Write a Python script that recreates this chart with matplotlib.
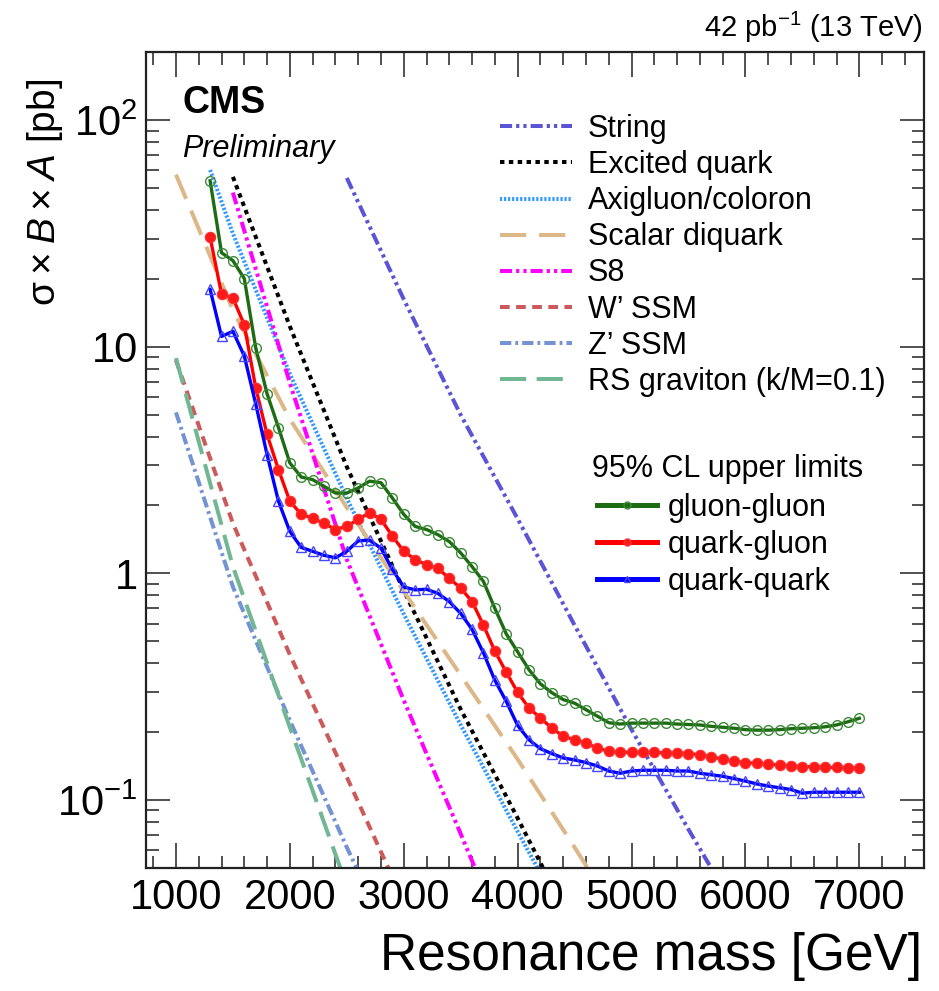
import numpy as np
import matplotlib
matplotlib.use('Agg')
import matplotlib.pyplot as plt
from matplotlib.lines import Line2D
from matplotlib.ticker import FixedLocator, FixedFormatter, MultipleLocator, NullFormatter

plt.rcParams['font.family'] = ['Liberation Sans', 'DejaVu Sans']
plt.rcParams['mathtext.fontset'] = 'custom'
plt.rcParams['mathtext.rm'] = 'Liberation Sans'
plt.rcParams['mathtext.it'] = 'Liberation Sans:italic'
plt.rcParams['mathtext.bf'] = 'Liberation Sans:bold'

# ---------------- data ----------------
limit_mass = list(range(1300, 7100, 100))
gluon_gluon = [54, 26, 24, 20, 9.9, 6.2, 4.4, 3.07, 2.66, 2.59,
               2.42, 2.26, 2.26, 2.38, 2.55, 2.51, 2.15, 1.82, 1.61, 1.56,
               1.48, 1.38, 1.23, 1.07, 0.92, 0.70, 0.54, 0.45, 0.375, 0.325,
               0.297, 0.277, 0.267, 0.250, 0.234, 0.219, 0.216, 0.218, 0.218, 0.218,
               0.218, 0.216, 0.215, 0.214, 0.211, 0.209, 0.207, 0.204, 0.203, 0.203,
               0.204, 0.206, 0.207, 0.208, 0.210, 0.214, 0.221, 0.229]
quark_gluon = [30.4, 17.1, 16.4, 12.5, 6.6, 4.1, 2.87, 2.08, 1.82, 1.75,
               1.66, 1.56, 1.61, 1.73, 1.85, 1.73, 1.46, 1.25, 1.15, 1.09,
               1.05, 0.95, 0.86, 0.75, 0.59, 0.453, 0.366, 0.298, 0.254, 0.230,
               0.207, 0.191, 0.184, 0.178, 0.169, 0.164, 0.162, 0.162, 0.162, 0.162,
               0.161, 0.161, 0.160, 0.158, 0.155, 0.151, 0.148, 0.146, 0.145, 0.144,
               0.142, 0.141, 0.140, 0.140, 0.139, 0.139, 0.138, 0.138]
quark_quark = [17.9, 11.1, 11.7, 9.1, 5.6, 3.34, 2.08, 1.53, 1.30, 1.25,
               1.20, 1.17, 1.25, 1.39, 1.40, 1.29, 1.04, 0.87, 0.845, 0.85,
               0.815, 0.75, 0.665, 0.565, 0.445, 0.337, 0.272, 0.213, 0.184, 0.168,
               0.160, 0.153, 0.150, 0.146, 0.141, 0.134, 0.131, 0.134, 0.135, 0.135,
               0.135, 0.134, 0.134, 0.131, 0.129, 0.127, 0.124, 0.121, 0.1175, 0.115,
               0.113, 0.111, 0.107, 0.108, 0.108, 0.108, 0.108, 0.108]

string_mass = [2500, 3000, 3500, 4000, 4500, 5000, 5500, 5800]
string_xs = [55.6, 16.2, 5.0, 1.74, 0.59, 0.204, 0.074, 0.041]
excited_mass = [1500, 2000, 2500, 3000, 3500, 4000, 4300]
excited_xs = [56.2, 12.3, 2.95, 0.84, 0.251, 0.083, 0.042]
axigluon_mass = [1300, 1500, 2000, 2500, 3000, 3500, 4000, 4250]
axigluon_xs = [60.3, 31.6, 7.59, 2.14, 0.661, 0.214, 0.0724, 0.0427]
diquark_mass = [1000, 1500, 2000, 2500, 3000, 3500, 4000, 4500, 4700]
diquark_xs = [57.5, 14.5, 4.79, 1.95, 0.832, 0.355, 0.151, 0.0617, 0.0427]
s8_mass = [1500, 2000, 2500, 3000, 3500, 3700]
s8_xs = [47.9, 6.92, 1.15, 0.275, 0.0708, 0.0407]
wprime_mass = [1000, 1500, 2000, 2500, 2900]
wprime_xs = [8.71, 1.66, 0.437, 0.126, 0.0457]
zprime_mass = [1000, 1500, 2000, 2500, 2650]
zprime_xs = [5.13, 0.871, 0.224, 0.0617, 0.0427]
rsg_mass = [1000, 1500, 2000, 2500]
rsg_xs = [8.91, 1.07, 0.209, 0.0417]

theory_labels = ['String', 'Excited quark', 'Axigluon/coloron', 'Scalar diquark',
                 'S8', 'W\u2019 SSM', 'Z\u2019 SSM', 'RS graviton (k/M=0.1)']
limit_labels = ['gluon-gluon', 'quark-gluon', 'quark-quark']

# ---------------- figure ----------------
W, H = 939, 991
fig = plt.figure(figsize=(W / 100, H / 100), dpi=100)
L, R, T, B = 146, 924, 52, 868
ax = fig.add_axes([L / W, 1 - B / H, (R - L) / W, (B - T) / H])
ax.set_xlim(737, 7568)
ax.set_yscale('log')
ax.set_ylim(0.05, 200)

lw_th = 2.9
th_specs = [
    (string_mass, string_xs, '#5b55d6', (0, (3.0, 1.0, 0.8, 1.0, 0.8, 1.0))),
    (excited_mass, excited_xs, 'black', (0, (1.1, 1.1))),
    (axigluon_mass, axigluon_xs, '#3399ff', (0, (0.55, 0.45))),
    (diquark_mass, diquark_xs, '#dcb788', (0, (6.5, 3.2))),
    (s8_mass, s8_xs, '#ff00ff', (0, (3.0, 1.0, 0.8, 1.0, 0.8, 1.0))),
    (wprime_mass, wprime_xs, '#cc5a5a', (0, (2.4, 1.6))),
    (zprime_mass, zprime_xs, '#7393d2', (0, (2.8, 1.0, 0.7, 1.0))),
    (rsg_mass, rsg_xs, '#72b794', (0, (6.5, 2.6))),
]
th_lines = []
for (m, xs, c, ls), lab in zip(th_specs, theory_labels):
    ln, = ax.plot(m, xs, color=c, lw=lw_th, linestyle=ls, label=lab)
    th_lines.append(ln)

ax.plot(limit_mass, gluon_gluon, color='#1d6b12', lw=2.4, marker='o', ms=7,
        mfc='none', mec='#3c8a38', mew=1.0, zorder=5)
ax.plot(limit_mass, quark_gluon, color='#ff0000', lw=2.4, marker='o', ms=7.5,
        mfc='#ff1a1a', mec='#ff3030', mew=0.8, zorder=5)
ax.plot(limit_mass, quark_quark, color='#0000ff', lw=2.4, marker='^', ms=7.5,
        mfc='none', mec='#4545ff', mew=1.0, zorder=5)

# axes styling
for s in ax.spines.values():
    s.set_linewidth(1.6)
    s.set_color('#222222')
ax.xaxis.set_major_locator(MultipleLocator(1000))
ax.xaxis.set_minor_locator(MultipleLocator(200))
ax.yaxis.set_major_locator(FixedLocator([0.1, 1, 10, 100]))
ax.yaxis.set_major_formatter(FixedFormatter(['$10^{-1}$', '1', '10', '$10^{2}$']))
minor_y = [k * 10.0 ** e for e in range(-2, 3) for k in range(2, 10)]
ax.yaxis.set_minor_locator(FixedLocator(minor_y))
ax.yaxis.set_minor_formatter(NullFormatter())
ax.tick_params(which='both', direction='in', top=True, right=True, colors='#222222',
               labelcolor='black', labelsize=30)
ax.tick_params(axis='x', which='major', length=18, width=1.1, pad=7)
ax.tick_params(axis='x', which='minor', length=9, width=1.1)
ax.tick_params(axis='y', which='major', length=17, width=1.1, pad=6)
ax.tick_params(axis='y', which='minor', length=9, width=1.1)

# legends
leg1 = ax.legend(handles=th_lines, loc='upper left',
                 bbox_to_anchor=(500 / W, 1 - 114 / H), bbox_transform=fig.transFigure,
                 frameon=False, fontsize=22, handlelength=2.35, handletextpad=0.52,
                 labelspacing=0.2, borderpad=0, borderaxespad=0)
ax.add_artist(leg1)

lim_handles = [
    Line2D([], [], color='#1d6b12', lw=3.6, marker='o', ms=5, mfc='none', mec='#3c8a38', mew=1.0),
    Line2D([], [], color='#ff0000', lw=3.6, marker='o', ms=5, mfc='#ff1a1a', mec='#ff3030'),
    Line2D([], [], color='#0000ff', lw=3.6, marker='^', ms=5, mfc='none', mec='#4545ff', mew=1.0),
]
leg2 = ax.legend(handles=lim_handles, labels=limit_labels, loc='upper left',
                 bbox_to_anchor=(597 / W, 1 - 493 / H), bbox_transform=fig.transFigure,
                 frameon=False, fontsize=22, handlelength=1.96, handletextpad=0.36,
                 labelspacing=0.23, borderpad=0, borderaxespad=0, numpoints=1)

# texts
fig.text(592 / W, 1 - 466 / H, '95% CL upper limits', fontsize=22, va='center_baseline', ha='left')
fig.text(182 / W, 1 - 113 / H, 'CMS', fontsize=27, fontweight='bold', va='baseline', ha='left')
fig.text(182 / W, 1 - 157 / H, 'Preliminary', fontsize=22, style='italic', va='baseline', ha='left')
fig.text(923 / W, 1 - 37 / H, '42 pb$^{-1}$ (13 TeV)', fontsize=21, va='baseline', ha='right')
fig.text(922 / W, 1 - 970 / H, 'Resonance mass [GeV]', fontsize=37, va='baseline', ha='right')
fig.text(55 / W, 1 - 79 / H, '\u03c3\u2009\u00d7\u2009$B$\u2009\u00d7\u2009$A$ [pb]', fontsize=28,
         rotation=90, rotation_mode='anchor', va='baseline', ha='right')

fig.savefig('out.png', dpi=100)
